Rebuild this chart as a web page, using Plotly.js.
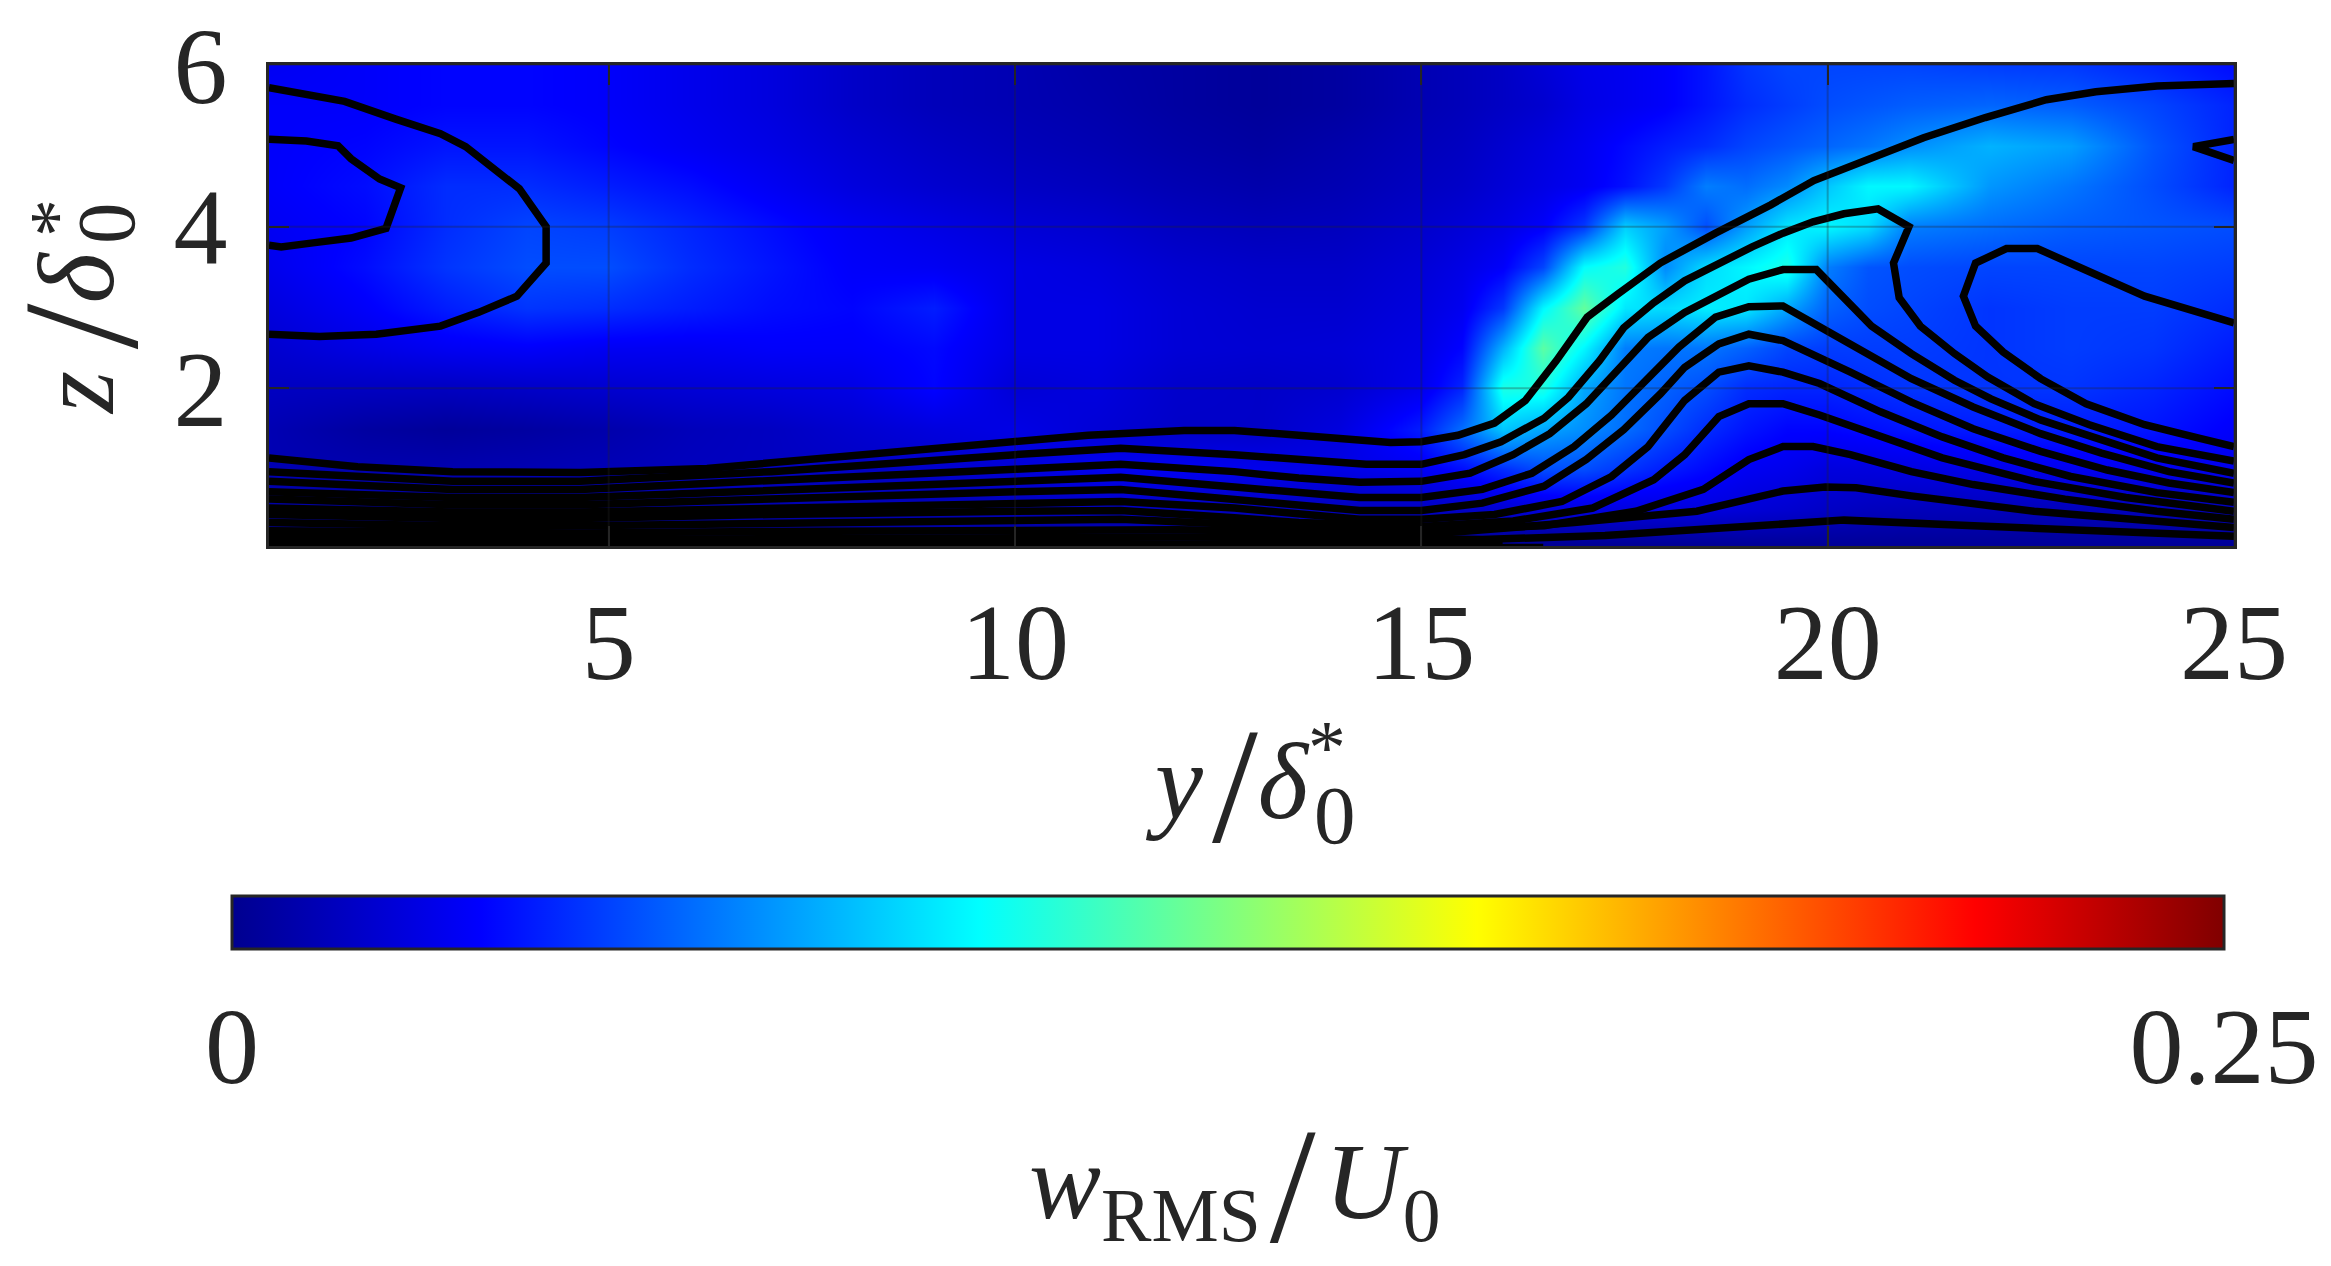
<!DOCTYPE html>
<html>
<head>
<meta charset="utf-8">
<script src="https://cdn.plot.ly/plotly-3.0.1.min.js"></script>
<style>
  html, body { margin: 0; padding: 0; background: #fff; }
</style>
</head>
<body>
<div id="chart" style="width:2331px;height:1266px;"></div>
<script>
// grid of the colour field
const yGrid = [0.82, 2, 3, 4, 5, 6, 7, 8, 9, 10, 11, 12, 13, 14, 15, 15.5, 16, 16.5, 17, 17.5, 18, 18.5, 19, 19.5, 20, 20.5, 21, 22, 23, 24, 24.97];
const zGrid = [0.05, 0.5, 1, 1.5, 2, 2.5, 3, 3.5, 4, 4.5, 5, 5.5, 6];

// w_RMS/U_0 in thousandths, one row per zGrid value
const row005 = [1, 1, 1, 1, 1, 1, 1, 1, 1, 1, 1, 1, 1, 1, 1, 1, 1, 1, 1, 1, 1, 1, 2, 2, 2, 2, 2, 2, 2, 2, 2];
const row050 = [6, 6, 6, 6, 7, 8, 9, 10, 11, 12, 14, 14, 14, 13, 14, 15, 18, 20, 22, 22, 22, 22, 20, 18, 15, 13, 12, 12, 12, 12, 12];
const row100 = [10, 9, 9, 10, 11, 13, 14, 15, 17, 20, 27, 28, 26, 24, 28, 34, 42, 50, 50, 44, 38, 33, 28, 26, 22, 22, 23, 25, 27, 27, 25];
const row150 = [10, 5, 3, 5, 8, 12, 14, 18, 22, 24, 20, 16, 16, 22, 38, 58, 80, 72, 66, 58, 50, 42, 36, 32, 32, 34, 36, 38, 38, 36, 30];
const row200 = [14, 14, 14, 16, 18, 20, 22, 24, 32, 20, 22, 17, 16, 18, 26, 40, 100, 100, 72, 60, 55, 50, 42, 40, 40, 42, 44, 44, 44, 40, 34];
const row250 = [18, 24, 28, 30, 28, 28, 30, 30, 33, 24, 24, 20, 19, 20, 24, 32, 75, 116, 92, 62, 60, 60, 55, 48, 46, 46, 46, 44, 46, 44, 38];
const row300 = [22, 30, 38, 44, 42, 38, 34, 32, 38, 24, 24, 20, 18, 18, 22, 27, 45, 92, 118, 88, 85, 90, 88, 72, 55, 50, 48, 44, 46, 46, 42];
const row350 = [26, 34, 44, 50, 50, 42, 36, 30, 28, 24, 22, 18, 16, 16, 20, 24, 30, 48, 94, 102, 65, 85, 92, 100, 62, 52, 50, 48, 48, 48, 46];
const row400 = [28, 32, 42, 48, 46, 40, 34, 28, 24, 20, 18, 14, 12, 13, 17, 20, 24, 30, 45, 82, 70, 50, 70, 88, 92, 85, 62, 58, 54, 52, 50];
const row450 = [30, 34, 42, 42, 38, 34, 28, 22, 18, 15, 13, 10, 8, 10, 14, 16, 20, 24, 28, 35, 45, 62, 58, 65, 80, 92, 92, 68, 60, 50, 40];
const row500 = [30, 32, 36, 36, 32, 28, 24, 19, 15, 12, 10, 7, 5, 8, 12, 14, 18, 22, 27, 33, 38, 42, 48, 52, 56, 60, 66, 75, 70, 52, 40];
const row550 = [30, 30, 32, 32, 30, 26, 22, 16, 12, 10, 8, 5, 3, 5, 10, 12, 15, 18, 24, 27, 30, 36, 42, 46, 50, 52, 54, 56, 54, 48, 40];
const row600 = [28, 30, 32, 32, 30, 26, 22, 16, 12, 10, 7, 5, 3, 5, 10, 12, 15, 20, 25, 27, 30, 36, 44, 48, 48, 48, 48, 46, 45, 40, 34];
const fieldRows = [row005, row050, row100, row150, row200, row250, row300, row350, row400, row450, row500, row550, row600];

// contour lines
const leftOuterY = [0.82, 1.75, 2.38, 2.93, 3.24, 3.90, 4.23, 4.23, 3.87, 3.40, 2.93, 2.14, 1.44, 0.82];
const leftOuterZ = [5.72, 5.55, 5.33, 5.15, 4.99, 4.47, 4.00, 3.55, 3.14, 2.94, 2.77, 2.67, 2.64, 2.67];
const leftInnerY = [0.82, 1.28, 1.67, 1.83, 2.18, 2.44, 2.26, 1.83, 1.36, 0.97, 0.82];
const leftInnerZ = [5.08, 5.06, 5.00, 4.84, 4.59, 4.48, 3.98, 3.86, 3.80, 3.75, 3.77];
const lineCY = [0.82, 1.91, 3.08, 4.65, 6.21, 7.78, 9.34, 10, 10.9, 12.08, 12.7, 13.49, 14.62, 15, 15.45, 15.9, 16.28, 16.66, 17.04, 17.41, 17.94, 18.62, 19.3, 19.83, 20.65, 21.18, 21.94, 22.69, 23.3, 24.05, 25];
const lineCZ = [1.14, 1.03, 0.97, 0.96, 1.01, 1.14, 1.28, 1.34, 1.42, 1.48, 1.48, 1.42, 1.33, 1.34, 1.42, 1.57, 1.85, 2.34, 2.88, 3.16, 3.55, 3.92, 4.27, 4.57, 4.88, 5.10, 5.35, 5.57, 5.67, 5.74, 5.77];
const lineDY = [0.82, 3.08, 4.65, 7, 10, 11.3, 12.7, 13.49, 14.32, 15, 15.53, 15.98, 16.51, 16.81, 17.19, 17.49, 17.86, 18.24, 18.62, 19.07, 19.45, 19.82, 20.2, 20.62, 21, 20.81, 20.88, 21.14, 21.56, 21.97, 22.54, 23.22, 24.05, 25];
const lineDZ = [0.97, 0.85, 0.85, 0.97, 1.18, 1.26, 1.18, 1.12, 1.06, 1.06, 1.18, 1.34, 1.63, 1.89, 2.34, 2.75, 3.06, 3.33, 3.53, 3.75, 3.92, 4.06, 4.16, 4.22, 4.00, 3.55, 3.12, 2.77, 2.43, 2.14, 1.81, 1.55, 1.28, 1.10];
const lineEY = [25, 23.9, 23.07, 22.58, 22.2, 21.82, 21.67, 21.82, 22.16, 22.62, 23.18, 23.9, 24.58, 25];
const lineEZ = [2.81, 3.14, 3.51, 3.73, 3.73, 3.55, 3.14, 2.77, 2.45, 2.12, 1.81, 1.55, 1.38, 1.28];
const lineFY = [0.82, 3.08, 4.65, 7, 10, 11.3, 12.7, 13.49, 14.24, 15, 15.6, 16.13, 16.58, 17.03, 17.41, 17.79, 18.24, 18.62, 19.03, 19.45, 19.86, 20.54, 21.03, 21.56, 22.01, 22.62, 23.3, 24.05, 25];
const lineFZ = [0.85, 0.75, 0.75, 0.85, 1.00, 1.06, 0.97, 0.89, 0.84, 0.85, 0.95, 1.18, 1.44, 1.81, 2.22, 2.63, 2.94, 3.14, 3.35, 3.47, 3.47, 2.77, 2.43, 2.10, 1.87, 1.61, 1.38, 1.14, 0.95];
const lineGY = [0.82, 3.08, 4.65, 7, 10, 11.3, 12.7, 13.49, 14.24, 15, 15.75, 16.36, 16.88, 17.34, 17.79, 18.17, 18.62, 19.03, 19.45, 20.35, 21.03, 21.79, 22.62, 23.37, 24.2, 25];
const lineGZ = [0.72, 0.65, 0.65, 0.74, 0.86, 0.90, 0.78, 0.71, 0.65, 0.65, 0.75, 0.95, 1.28, 1.67, 2.12, 2.51, 2.88, 3.01, 3.02, 2.51, 2.12, 1.77, 1.44, 1.20, 0.97, 0.83];
const lineHY = [0.82, 3.08, 4.65, 7, 10, 11.3, 12.7, 13.49, 14.24, 15, 15.75, 16.51, 17.03, 17.49, 17.94, 18.24, 18.66, 19.03, 19.45, 20.28, 21.03, 21.79, 22.62, 23.44, 24.2, 25];
const lineHZ = [0.63, 0.56, 0.56, 0.64, 0.72, 0.75, 0.62, 0.56, 0.49, 0.49, 0.58, 0.79, 1.12, 1.49, 1.93, 2.26, 2.55, 2.67, 2.59, 2.20, 1.83, 1.50, 1.22, 0.99, 0.83, 0.71];
const lineIY = [0.82, 3.08, 4.65, 7, 10, 11.3, 12.7, 13.49, 14.24, 15, 15.9, 16.73, 17.34, 17.79, 18.24, 18.66, 19.03, 19.45, 19.9, 20.65, 21.41, 22.16, 22.99, 24.05, 25];
const lineIZ = [0.52, 0.47, 0.47, 0.52, 0.57, 0.60, 0.52, 0.44, 0.38, 0.38, 0.44, 0.60, 0.91, 1.28, 1.85, 2.20, 2.28, 2.20, 2.06, 1.71, 1.40, 1.14, 0.91, 0.71, 0.59];
const lineJY = [0.82, 3.08, 4.65, 7, 10, 11.3, 12.7, 13.49, 15, 16.13, 17.11, 17.86, 18.24, 18.66, 19.03, 19.45, 19.9, 20.65, 21.41, 22.54, 23.67, 25];
const lineJZ = [0.44, 0.39, 0.39, 0.44, 0.48, 0.49, 0.40, 0.34, 0.29, 0.36, 0.52, 0.87, 1.18, 1.65, 1.81, 1.81, 1.67, 1.40, 1.14, 0.85, 0.65, 0.48];
const lineKY = [0.82, 3.08, 4.65, 7, 10, 11.3, 12.7, 14.24, 15, 16.51, 17.64, 18.47, 19.03, 19.45, 19.82, 20.28, 21.03, 21.79, 22.92, 24.05, 25];
const lineKZ = [0.34, 0.30, 0.30, 0.33, 0.36, 0.38, 0.32, 0.24, 0.24, 0.30, 0.48, 0.75, 1.12, 1.28, 1.28, 1.18, 0.97, 0.81, 0.63, 0.48, 0.38];
const lineLY = [0.82, 3.08, 4.65, 7, 10, 12, 14, 15.38, 16.88, 18.39, 19.45, 19.97, 20.35, 21.03, 22.54, 24.05, 25];
const lineLZ = [0.24, 0.21, 0.21, 0.23, 0.25, 0.25, 0.22, 0.22, 0.34, 0.48, 0.73, 0.78, 0.77, 0.67, 0.48, 0.36, 0.28];
const lineMY = [0.82, 3.08, 4.65, 7, 10, 12, 14, 15.75, 17.26, 18.77, 19.97, 20.2, 21.8, 23.3, 25];
const lineMZ = [0.16, 0.13, 0.13, 0.14, 0.16, 0.16, 0.15, 0.13, 0.18, 0.28, 0.37, 0.37, 0.30, 0.24, 0.17];
const lineNY = [0.82, 7, 12, 16];
const lineNZ = [0.08, 0.08, 0.09, 0.07];
const lineOY = [0.82, 7, 12, 16.5];
const lineOZ = [0.03, 0.03, 0.03, 0.03];
const cornerY = [25, 24.5, 25];
const cornerZ = [5.08, 4.99, 4.82];

const contourLines = [
  [leftOuterY, leftOuterZ], [leftInnerY, leftInnerZ], [lineCY, lineCZ], [lineDY, lineDZ],
  [lineEY, lineEZ], [lineFY, lineFZ], [lineGY, lineGZ], [lineHY, lineHZ], [lineIY, lineIZ],
  [lineJY, lineJZ], [lineKY, lineKZ], [lineLY, lineLZ], [lineMY, lineMZ], [lineNY, lineNZ],
  [lineOY, lineOZ], [cornerY, cornerZ]
];

const yTicks = [5, 10, 15, 20, 25];
const zTicks = [2, 4, 6];
const barTicks = [0, 0.25];
const barTickText = ["0", "0.25"];

// matlab jet
const jet = [
  [0, "#00008f"], [0.125, "#0000ff"], [0.375, "#00ffff"],
  [0.625, "#ffff00"], [0.875, "#ff0000"], [1, "#800000"]
];

const serif = "Liberation Serif";
const ink = "#262626";

// plot box in page pixels
const W = 2331, H = 1266;
const box = { l: 269, r: 2234, t: 65, b: 546 };
const px = v => (v - box.l) / (box.r - box.l);
const py = v => (box.b - v) / (box.b - box.t);

const traces = [{
  type: "heatmap",
  x: yGrid,
  y: zGrid,
  z: fieldRows.map(r => r.map(v => v / 1000)),
  zmin: 0,
  zmax: 0.25,
  zsmooth: "best",
  colorscale: jet,
  hoverinfo: "skip",
  colorbar: {
    orientation: "h",
    lenmode: "pixels",
    len: 1992,
    thicknessmode: "pixels",
    thickness: 53,
    x: px(232),
    xanchor: "left",
    y: py(896),
    yanchor: "top",
    xpad: 0,
    ypad: 0,
    outlinewidth: 3,
    outlinecolor: ink,
    tickmode: "array",
    tickvals: barTicks,
    ticktext: barTickText,
    ticks: "outside",
    ticklen: 3,
    tickcolor: "rgba(0,0,0,0)",
    tickfont: { family: serif, size: 108, color: ink }
  }
}];

contourLines.forEach(pair => {
  traces.push({
    type: "scatter",
    mode: "lines",
    x: pair[0],
    y: pair[1],
    line: { color: "#000", width: 7.5 },
    hoverinfo: "skip",
    showlegend: false
  });
});

// grid sits over the colours in the original
const gridShapes = [];
yTicks.forEach(t => gridShapes.push({ type: "line", layer: "above", xref: "x", yref: "paper", x0: t, x1: t, y0: 0, y1: 1, line: { color: "rgba(38,38,38,0.3)", width: 2 } }));
zTicks.forEach(t => gridShapes.push({ type: "line", layer: "above", xref: "paper", yref: "y", x0: 0, x1: 1, y0: t, y1: t, line: { color: "rgba(38,38,38,0.3)", width: 2 } }));

const annotations = [
  {
    text: '<i>y</i>\u200a<sub><span style="font-size:165px">/</span></sub><i>δ</i><sup>*</sup>',
    x: px(1245), y: py(785)
  },
  { text: "0", x: px(1335), y: py(815), size: 83 },
  {
    text: '<i>z</i>\u2009<sub><span style="font-size:165px">/</span></sub><i>δ</i>',
    x: px(80), y: py(333), textangle: -90
  },
  { text: "*", x: px(56), y: py(218), size: 76, textangle: -90 },
  { text: "0", x: px(106), y: py(223), size: 83, textangle: -90 },
  {
    text: '<i>w</i><sub>RMS</sub>\u200a<sub><span style="font-size:165px">/</span></sub>\u200a<i>U</i><sub>0</sub>',
    x: px(1234), y: py(1185)
  }
].map(a => ({
  text: a.text,
  xref: "paper",
  yref: "paper",
  x: a.x,
  y: a.y,
  xanchor: "center",
  yanchor: "middle",
  textangle: a.textangle || 0,
  showarrow: false,
  font: { family: serif, size: a.size || 108, color: ink }
}));

const layout = {
  width: W,
  height: H,
  paper_bgcolor: "#fff",
  plot_bgcolor: "#fff",
  showlegend: false,
  margin: { l: box.l, r: W - box.r, t: box.t, b: H - box.b, pad: 0, autoexpand: false },
  xaxis: {
    range: [0.82, 25],
    tickmode: "array",
    tickvals: yTicks,
    ticktext: yTicks.map(String),
    ticks: "inside",
    ticklen: 20,
    tickwidth: 2,
    tickcolor: ink,
    showgrid: false,
    zeroline: false,
    showline: true,
    mirror: "ticks",
    linecolor: ink,
    linewidth: 3,
    layer: "above traces",
    ticklabelstandoff: 0,
    tickfont: { family: serif, size: 108, color: ink }
  },
  yaxis: {
    range: [0.05, 6],
    tickmode: "array",
    tickvals: zTicks,
    ticktext: zTicks.map(String),
    ticks: "inside",
    ticklen: 20,
    tickwidth: 2,
    tickcolor: ink,
    showgrid: false,
    zeroline: false,
    showline: true,
    mirror: "ticks",
    linecolor: ink,
    linewidth: 3,
    layer: "above traces",
    ticklabelstandoff: 17,
    tickfont: { family: serif, size: 108, color: ink }
  },
  shapes: gridShapes,
  annotations: annotations
};

Plotly.newPlot("chart", traces, layout, { displayModeBar: false, staticPlot: true });
</script>
</body>
</html>
